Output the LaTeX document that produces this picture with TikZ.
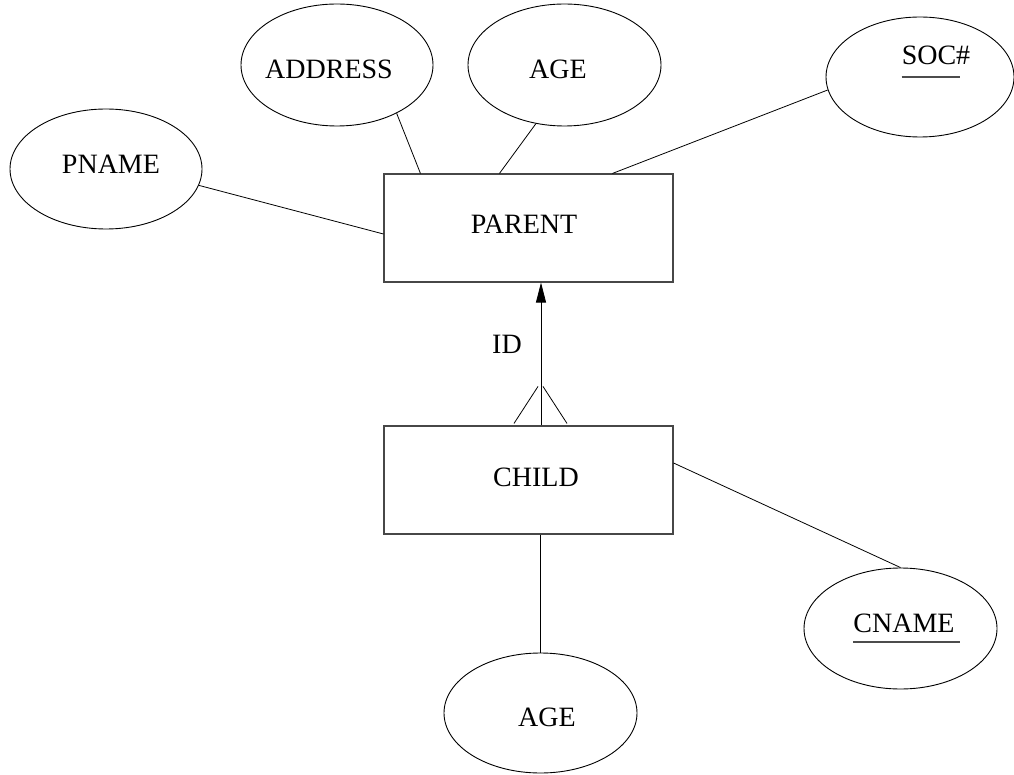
\documentclass[tikz,border=0pt]{standalone}
\usepackage{fontspec}
\setmainfont{Liberation Serif}
\usetikzlibrary{shapes.geometric,arrows.meta}

\tikzset{
  entity/.style={draw=black!72, line width=1.1pt, rectangle, inner sep=0pt,
                 minimum width=289pt, minimum height=108pt},
  attr/.style={draw=black, line width=0.9pt, ellipse, inner sep=0pt},
  lbl/.style={inner sep=0pt, anchor=base, font=\fontsize{28}{34}\selectfont},
  link/.style={draw=black, line width=0.8pt},
  keyline/.style={draw=black!70, line width=1.1pt}
}

\begin{document}
\begin{tikzpicture}[x=1pt,y=1pt]
  \useasboundingbox (0,0) rectangle (1014,-775);

  % entities
  \node[entity] (parent) at (528.5,-228) {};
  \node[entity] (child)  at (528.5,-480) {};
  \node[lbl] (parentT) at (524,-234) {PARENT};
  \node[lbl] (childT)  at (536,-486) {CHILD};

  % attributes of PARENT
  \node[attr, minimum width=192pt, minimum height=120pt] (pname) at (106,-169) {};
  \node[lbl] (pnameT) at (111,-174) {PNAME};
  \node[attr, minimum width=192pt, minimum height=122pt] (addr) at (337,-65) {};
  \node[lbl] (addrT) at (329,-79) {ADDRESS};
  \node[attr, minimum width=193pt, minimum height=122pt] (pagE) at (564.5,-65) {};
  \node[lbl] (pagET) at (558,-79) {AGE};
  \node[attr, minimum width=188pt, minimum height=120pt] (soc) at (920,-77) {};
  \node[lbl] (socT) at (936,-65) {SOC\#};

  % attributes of CHILD
  \node[attr, minimum width=193pt, minimum height=121pt] (cname) at (900.5,-628.5) {};
  \node[lbl] (cnameT) at (904,-632) {CNAME};
  \node[attr, minimum width=193pt, minimum height=120pt] (cage) at (540.5,-713) {};
  \node[lbl] (cageT) at (547,-726) {AGE};

  % key underlines
  \draw[keyline] ([yshift=-12pt]socT.base west) -- ([xshift=-10pt,yshift=-12pt]socT.base east);
  \draw[keyline] ([yshift=-10pt]cnameT.base west) -- ([xshift=5pt,yshift=-10pt]cnameT.base east);

  % attribute links
  \draw[link] (pname.-10) -- ([yshift=-6pt]parent.west);
  \draw[link] (addr.-39) -- ([xshift=37pt]parent.north west);
  \draw[link] (pagE.-116) -- ([xshift=116pt]parent.north west);
  \draw[link] (soc.-172.6) -- ([xshift=229pt]parent.north west);
  \draw[link] ([yshift=17pt]child.east) -- (cname.north);
  \draw[link] (cage.north |- child.south) -- (cage.north);

  % identifying relationship CHILD -> PARENT
  \coordinate (cf) at ([xshift=12.5pt]child.north);
  \coordinate (pf) at ([xshift=12.5pt]parent.south);
  \draw[link, -{Triangle[length=20pt,width=10pt]}] (cf) -- (pf);
  \draw[link] ([xshift=-27pt,yshift=2pt]cf) -- ([xshift=-3pt,yshift=39pt]cf);
  \draw[link] ([xshift=26pt,yshift=2pt]cf) -- ([xshift=2pt,yshift=39pt]cf);
  \node[lbl] (idT) at (507,-353) {ID};
\end{tikzpicture}
\end{document}
